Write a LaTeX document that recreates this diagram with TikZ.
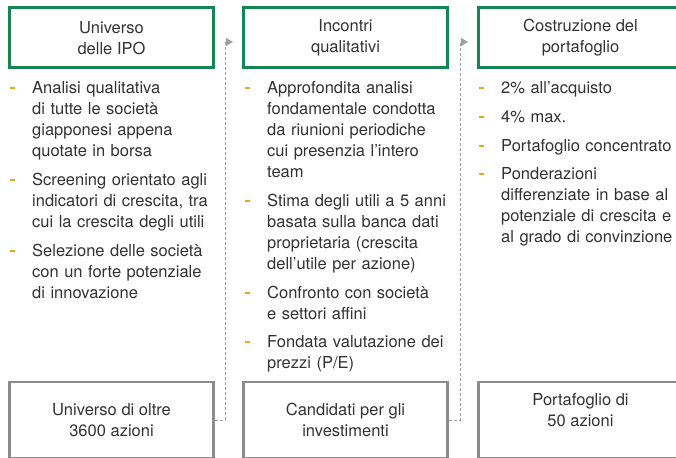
\documentclass[tikz,border=0pt]{standalone}
\usepackage{fontspec}
\setmainfont{TeX Gyre Heros}
\usetikzlibrary{positioning,arrows.meta}
\definecolor{boxgreen}{RGB}{20,134,82}
\definecolor{boxgray}{RGB}{140,140,140}
\definecolor{dashgray}{RGB}{160,160,160}
\definecolor{mustard}{RGB}{222,174,20}
\definecolor{txt}{RGB}{50,50,50}
\newcommand{\bul}{\llap{\textcolor{mustard}{\rule[4.5pt]{5pt}{2pt}}\hspace{17pt}}}

\tikzset{
  head/.style={draw=boxgreen, line width=3pt, minimum width=204pt, minimum height=60pt, align=center},
  foot/.style={draw=boxgray, line width=2.5pt, minimum width=204pt, minimum height=76pt, align=center},
  item/.style={text width=200pt, inner sep=0pt, align=left, font=\fontsize{16.5}{21}\selectfont,
    execute at begin node={\bul\strut}, execute at end node={\strut}},
  conn/.style={draw=dashgray, line width=1pt, dash pattern=on 3pt off 2pt,
    -{Triangle[length=7pt,width=8pt]}},
}

\begin{document}
\begin{tikzpicture}[x=1pt, y=-1pt, font=\fontsize{16.5}{21}\selectfont, text=txt]
  \clip (0,0) rectangle (676,457);

  % top boxes
  \node[head] (t1) at (111.5,38) {Universo\\delle IPO};
  \node[head] (t2) at (345.5,38) {Incontri\\qualitativi};
  \node[head] (t3) at (580.5,38) {Costruzione del\\portafoglio};

  % bottom boxes
  \node[foot] (b1) at (111.5,420) {Universo di oltre\\3600 azioni};
  \node[foot] (b2) at (345.5,420) {Candidati per gli\\investimenti};
  \node[foot] (b3) at (580.5,420) {Portafoglio di\\50 azioni\\~};

  % first column
  \node[item, anchor=north west] (i11) at (32,78.3)
    {Analisi qualitativa\\di tutte le società\\giapponesi appena\\quotate in borsa};
  \node[item, below=7.5pt of i11.south west, anchor=north west] (i12)
    {Screening orientato agli\\indicatori di crescita, tra\\cui la crescita degli utili};
  \node[item, below=7.5pt of i12.south west, anchor=north west] (i13)
    {Selezione delle società\\con un forte potenziale\\di innovazione};

  % second column
  \node[item, anchor=north west] (i21) at (267,78.3)
    {Approfondita analisi\\fondamentale condotta\\da riunioni periodiche\\cui presenzia l’intero\\team};
  \node[item, below=7.5pt of i21.south west, anchor=north west] (i22)
    {Stima degli utili a 5 anni\\basata sulla banca dati\\proprietaria (crescita\\dell’utile per azione)};
  \node[item, below=7.5pt of i22.south west, anchor=north west] (i23)
    {Confronto con società\\e settori affini};
  \node[item, below=7.5pt of i23.south west, anchor=north west] (i24)
    {Fondata valutazione dei\\prezzi (P/E)};

  % third column
  \node[item, anchor=north west] (i31) at (501,78.3) {2\% all’acquisto};
  \node[item, below=7.5pt of i31.south west, anchor=north west] (i32) {4\% max.};
  \node[item, below=7.5pt of i32.south west, anchor=north west] (i33) {Portafoglio concentrato};
  \node[item, below=7.5pt of i33.south west, anchor=north west] (i34)
    {Ponderazioni\\differenziate in base al\\potenziale di crescita e\\al grado di convinzione};

  % connectors
  \coordinate (k1) at (225,42);
  \coordinate (a1) at (233,42);
  \coordinate (k2) at (460,42);
  \coordinate (a2) at (468,42);
  \draw[conn] (b1.east) -| (k1) -- (a1);
  \draw[conn] (b2.east) -| (k2) -- (a2);
\end{tikzpicture}
\end{document}
